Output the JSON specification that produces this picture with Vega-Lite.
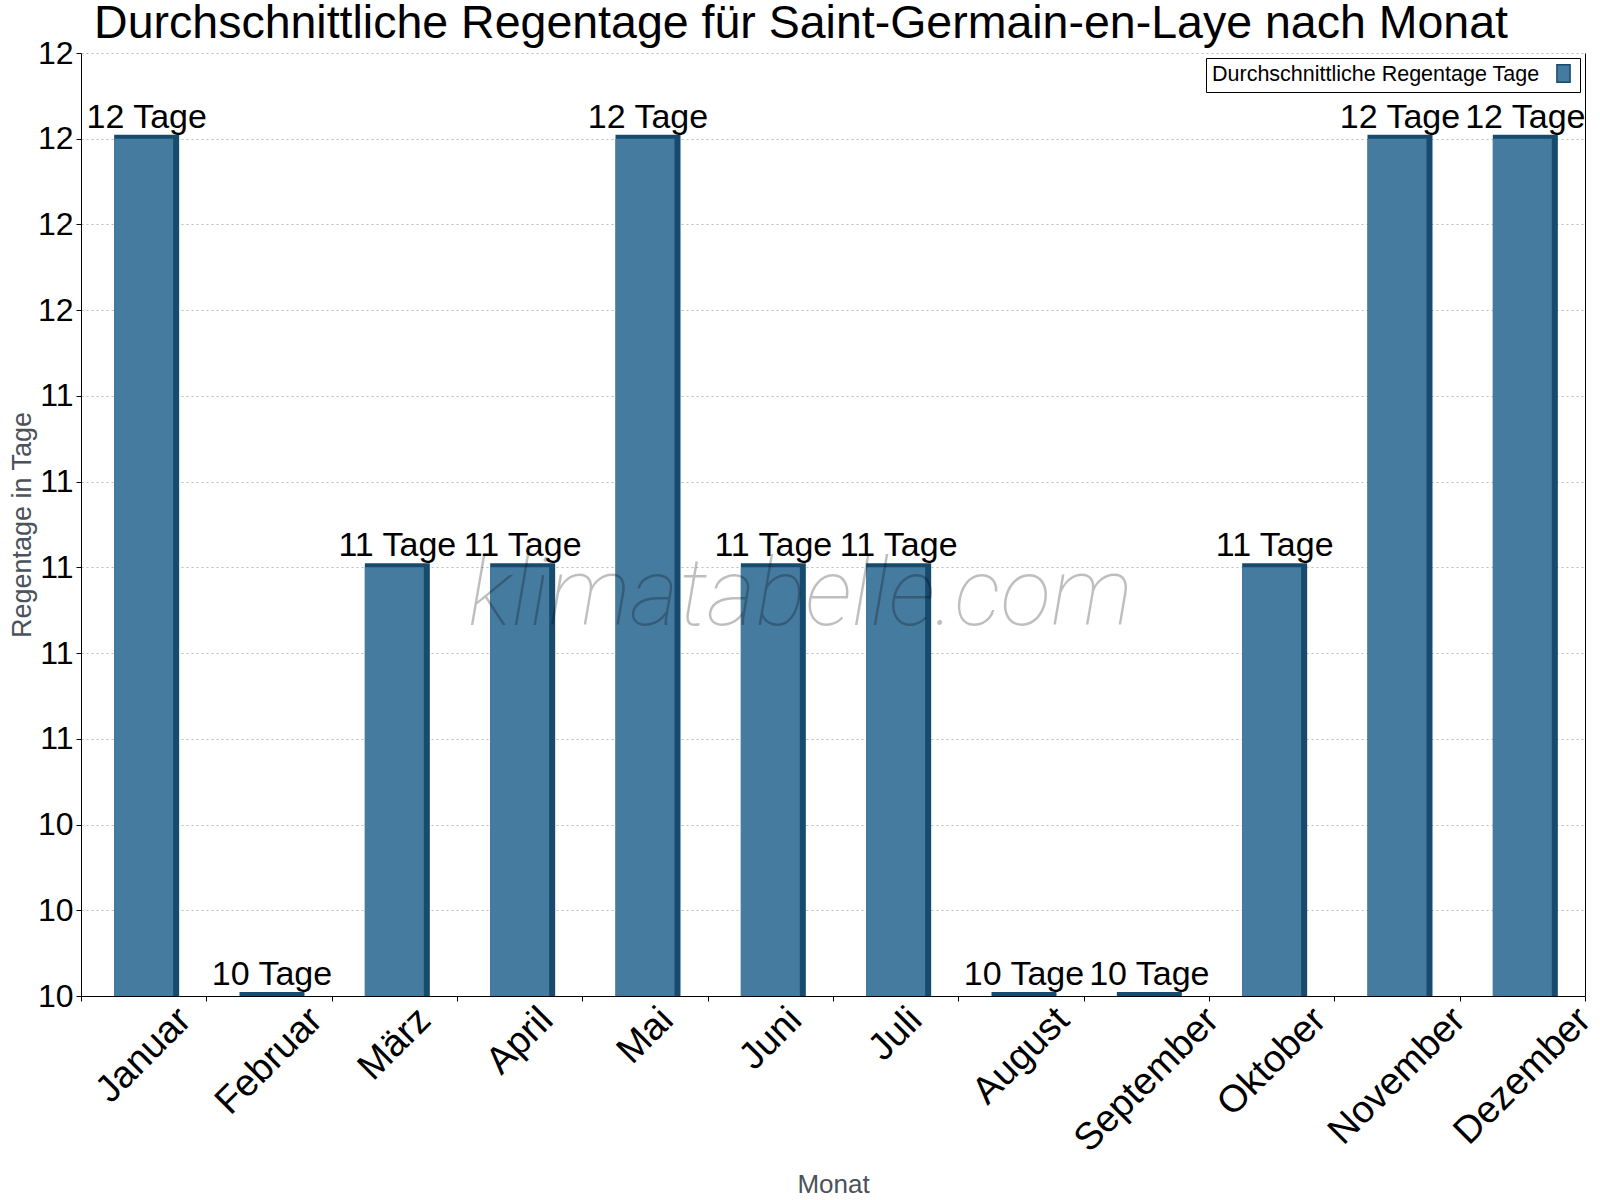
{
  "$schema": "https://vega.github.io/schema/vega-lite/v6.json",
  "width": 1504,
  "height": 943,
  "autosize": {"type": "none"},
  "padding": {"left": 81, "top": 53, "right": 15, "bottom": 204},
  "background": "white",
  "config": {
    "font": "Liberation Sans",
    "view": {"stroke": null},
    "axis": {"labelFont": "Liberation Sans", "titleFont": "Liberation Sans", "titleFontWeight": "normal", "domainColor": "black", "tickColor": "black"}
  },
  "title": {
    "text": "Durchschnittliche Regentage für Saint-Germain-en-Laye nach Monat",
    "fontSize": 46.5,
    "fontWeight": "normal",
    "font": "Liberation Sans",
    "color": "black",
    "anchor": "middle",
    "dx": -32,
    "offset": -10
  },
  "data": {
    "values": [
      {"Monat": "Januar", "Tage": 12, "label": "12 Tage", "serie": "Durchschnittliche Regentage Tage"},
      {"Monat": "Februar", "Tage": 10, "label": "10 Tage", "serie": "Durchschnittliche Regentage Tage"},
      {"Monat": "März", "Tage": 11, "label": "11 Tage", "serie": "Durchschnittliche Regentage Tage"},
      {"Monat": "April", "Tage": 11, "label": "11 Tage", "serie": "Durchschnittliche Regentage Tage"},
      {"Monat": "Mai", "Tage": 12, "label": "12 Tage", "serie": "Durchschnittliche Regentage Tage"},
      {"Monat": "Juni", "Tage": 11, "label": "11 Tage", "serie": "Durchschnittliche Regentage Tage"},
      {"Monat": "Juli", "Tage": 11, "label": "11 Tage", "serie": "Durchschnittliche Regentage Tage"},
      {"Monat": "August", "Tage": 10, "label": "10 Tage", "serie": "Durchschnittliche Regentage Tage"},
      {"Monat": "September", "Tage": 10, "label": "10 Tage", "serie": "Durchschnittliche Regentage Tage"},
      {"Monat": "Oktober", "Tage": 11, "label": "11 Tage", "serie": "Durchschnittliche Regentage Tage"},
      {"Monat": "November", "Tage": 12, "label": "12 Tage", "serie": "Durchschnittliche Regentage Tage"},
      {"Monat": "Dezember", "Tage": 12, "label": "12 Tage", "serie": "Durchschnittliche Regentage Tage"}
    ]
  },
  "encoding": {
    "x": {
      "field": "Monat",
      "type": "nominal",
      "sort": null,
      "scale": {"paddingInner": 0, "paddingOuter": 0},
      "axis": {
        "title": "Monat",
        "titleFontSize": 26,
        "titleColor": "#4a525a",
        "titlePadding": 13,
        "labelFontSize": 38,
        "labelColor": "black",
        "labelAngle": -45,
        "labelAlign": "right",
        "labelBaseline": "middle",
        "labelPadding": 13,
        "labelLimit": 0,
        "tickSize": 5,
        "tickBand": "extent",
        "grid": false,
        "labelOffset": {
          "condition": [
            {"test": "datum.value == 'Januar'", "value": 41},
            {"test": "datum.value == 'Februar'", "value": 47},
            {"test": "datum.value == 'März'", "value": 30},
            {"test": "datum.value == 'April'", "value": 27},
            {"test": "datum.value == 'Mai'", "value": 22},
            {"test": "datum.value == 'Juni'", "value": 25},
            {"test": "datum.value == 'Juli'", "value": 20},
            {"test": "datum.value == 'August'", "value": 42},
            {"test": "datum.value == 'September'", "value": 66},
            {"test": "datum.value == 'Oktober'", "value": 48},
            {"test": "datum.value == 'November'", "value": 62}
          ],
          "value": 62
        }
      }
    }
  },
  "layer": [
    {
      "mark": {"type": "bar", "width": 65, "xOffset": 3, "yOffset": -4, "y2Offset": 0, "color": "#174b6d", "clip": false},
      "encoding": {
        "y": {
          "field": "Tage",
          "type": "quantitative",
          "scale": {"domain": [10, 12.2], "nice": false, "zero": false},
          "axis": {
            "title": "Regentage in Tage",
            "titleFontSize": 27,
            "titleColor": "#4a525a",
            "titlePadding": 1,
            "values": [10, 10.2, 10.4, 10.6, 10.8, 11, 11.2, 11.4, 11.6, 11.8, 12, 12.2],
            "format": ".0f",
            "labelFontSize": 32,
            "labelColor": "black",
            "labelPadding": 3,
            "tickSize": 5,
            "grid": true,
            "gridColor": "#bbbbbb",
            "gridDash": [2, 3],
            "gridWidth": 1
          }
        },
        "y2": {"datum": 10}
      }
    },
    {
      "mark": {"type": "bar", "width": 59, "color": "#467ba0"},
      "encoding": {
        "y": {"field": "Tage", "type": "quantitative", "axis": null},
        "y2": {"datum": 10},
        "color": {
          "field": "serie",
          "type": "nominal",
          "scale": {"range": ["#467ba0"]},
          "legend": {
            "title": "Durchschnittliche Regentage Tage",
            "titleOrient": "left",
            "titleFont": "Liberation Sans",
            "titleFontSize": 21.5,
            "titleFontWeight": "normal",
            "titleColor": "black",
            "titleBaseline": "middle",
            "titleLimit": 0,
            "titlePadding": 14,
            "labelExpr": "''",
            "labelOffset": 0,
            "orient": "top-right",
            "offset": 5,
            "strokeColor": "black",
            "fillColor": "white",
            "padding": 6,
            "symbolType": "M-0.76,-1H0.76V1H-0.76Z",
            "symbolSize": 300,
            "symbolStrokeColor": "#174b6d",
            "symbolStrokeWidth": 1.5,
            "symbolFillColor": "#467ba0"
          }
        }
      }
    },
    {
      "mark": {"type": "text", "fontSize": 34, "dy": -11, "dx": 3, "baseline": "alphabetic", "align": "center", "color": "black", "font": "Liberation Sans"},
      "encoding": {
        "y": {
          "field": "Tage",
          "type": "quantitative",
          "axis": {"orient": "right", "labels": false, "ticks": false, "grid": false, "title": null, "domainColor": "black"}
        },
        "text": {"field": "label"}
      }
    },
    {
      "data": {"values": [{"wm": "klimatabelle.com"}]},
      "mark": {"type": "text", "font": "Roboto", "fontStyle": "italic", "fontWeight": 100, "fontSize": 94, "color": "black", "opacity": 0.25, "baseline": "middle", "align": "center"},
      "encoding": {
        "x": {"datum": "Juni", "bandPosition": 0.74},
        "y": {"datum": 10.93, "axis": null},
        "text": {"field": "wm"}
      }
    }
  ],
  "resolve": {"axis": {"y": "independent"}}
}
